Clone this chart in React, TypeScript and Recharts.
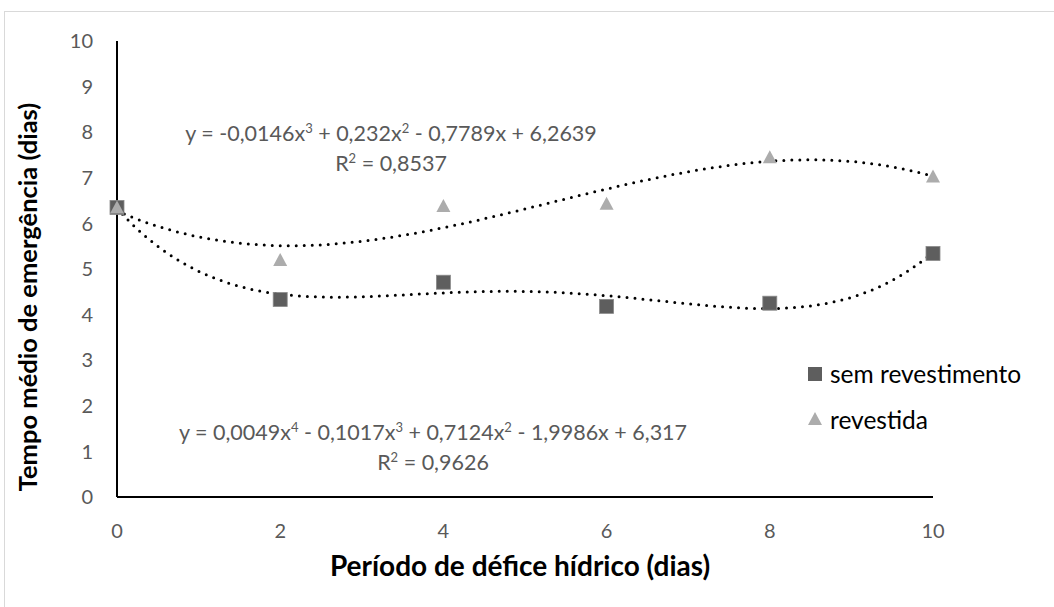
import React from "react";
import { ComposedChart, Scatter, Line, XAxis, YAxis } from "recharts";

// dias de déficit hídrico
const periodos = [0, 2, 4, 6, 8, 10];
const semRevestimento = [6.35, 4.33, 4.71, 4.18, 4.25, 5.34];
const revestida = [6.35, 5.2, 6.38, 6.43, 7.45, 7.03];
const xTicks = [0, 2, 4, 6, 8, 10];
const yTicks = [0, 1, 2, 3, 4, 5, 6, 7, 8, 9, 10];

const FONT = "Lato, 'Open Sans', sans-serif";
const GRAY_TEXT = "#595959";
const DARK = "#5e5e5e";
const LIGHT = "#acacac";

// least squares polynomial fit (same as the spreadsheet trendline)
function polyfit(xs: number[], ys: number[], deg: number): number[] {
  const n = deg + 1;
  const A: number[][] = Array.from({ length: n }, () => Array(n + 1).fill(0));
  for (let i = 0; i < xs.length; i++) {
    for (let r = 0; r < n; r++) {
      for (let c = 0; c < n; c++) A[r][c] += Math.pow(xs[i], r + c);
      A[r][n] += ys[i] * Math.pow(xs[i], r);
    }
  }
  for (let p = 0; p < n; p++) {
    let max = p;
    for (let r = p + 1; r < n; r++)
      if (Math.abs(A[r][p]) > Math.abs(A[max][p])) max = r;
    [A[p], A[max]] = [A[max], A[p]];
    for (let r = p + 1; r < n; r++) {
      const f = A[r][p] / A[p][p];
      for (let c = p; c <= n; c++) A[r][c] -= f * A[p][c];
    }
  }
  const coef = Array(n).fill(0);
  for (let r = n - 1; r >= 0; r--) {
    let s = A[r][n];
    for (let c = r + 1; c < n; c++) s -= A[r][c] * coef[c];
    coef[r] = s / A[r][r];
  }
  return coef;
}

function trend(xs: number[], ys: number[], deg: number) {
  const coef = polyfit(xs, ys, deg);
  const pts = [];
  for (let i = 0; i <= 100; i++) {
    const x = i / 10;
    pts.push({ x, y: coef.reduce((s, c, k) => s + c * Math.pow(x, k), 0) });
  }
  return pts;
}

const semData = periodos.map((x, i) => ({ x, y: semRevestimento[i] }));
const revData = periodos.map((x, i) => ({ x, y: revestida[i] }));
const semTrend = trend(periodos, semRevestimento, 4);
const revTrend = trend(periodos, revestida, 3);

const Square = (props: any) => {
  const { cx, cy } = props;
  if (cx == null || cy == null) return null;
  return (
    <rect x={cx - 7} y={cy - 7} width={14} height={14} fill={DARK} stroke="#8a8a8a" strokeWidth={0.8} />
  );
};

const Triangle = (props: any) => {
  const { cx, cy } = props;
  if (cx == null || cy == null) return null;
  return (
    <polygon
      points={`${cx},${cy - 7} ${cx + 7},${cy + 6} ${cx - 7},${cy + 6}`}
      fill={LIGHT}
    />
  );
};

const eqStyle: React.CSSProperties = {
  position: "absolute",
  fontFamily: FONT,
  fontSize: 21.5,
  color: GRAY_TEXT,
  textAlign: "center",
  lineHeight: "30px",
  whiteSpace: "nowrap",
};

const supStyle: React.CSSProperties = {
  fontSize: 13,
  position: "relative",
  top: -8,
  verticalAlign: "baseline",
  lineHeight: 0,
};

const titleStyle: React.CSSProperties = {
  position: "absolute",
  fontFamily: FONT,
  fontWeight: 700,
  color: "#000",
  whiteSpace: "nowrap",
};

export default function App() {
  return (
    <div
      style={{
        position: "absolute",
        left: 0,
        top: 0,
        width: 1054,
        height: 607,
        background: "#fff",
        overflow: "hidden",
      }}
    >
      <div
        style={{
          position: "absolute",
          left: 4,
          top: 11,
          width: 1100,
          height: 700,
          border: "1px solid #d9d9d9",
        }}
      />
      <div style={{ position: "absolute", left: 0, top: 0 }}>
        <ComposedChart
          width={1054}
          height={607}
          margin={{ top: 41, right: 121, bottom: 80, left: 57 }}
        >
          <XAxis
            type="number"
            dataKey="x"
            domain={[0, 10]}
            ticks={xTicks}
            height={30}
            axisLine={{ stroke: "#000", strokeWidth: 2 }}
            tickLine={false}
            tickSize={0}
            tickMargin={27}
            tick={{ fill: GRAY_TEXT, fontSize: 20, fontFamily: FONT }}
            allowDuplicatedCategory={false}
          />
          <YAxis
            type="number"
            dataKey="y"
            domain={[0, 10]}
            ticks={yTicks}
            width={60}
            axisLine={{ stroke: "#000", strokeWidth: 2 }}
            tickLine={false}
            tickSize={0}
            tickMargin={24}
            tick={{ fill: GRAY_TEXT, fontSize: 20, fontFamily: FONT }}
          />
          <Scatter
            name="sem revestimento"
            data={semData}
            shape={<Square />}
            isAnimationActive={false}
          />
          <Scatter
            name="revestida"
            data={revData}
            shape={<Triangle />}
            isAnimationActive={false}
          />
          <Line
            data={revTrend}
            dataKey="y"
            type="linear"
            stroke="#000"
            strokeWidth={3}
            strokeDasharray="0 8"
            strokeLinecap="round"
            dot={false}
            activeDot={false}
            legendType="none"
            isAnimationActive={false}
          />
          <Line
            data={semTrend}
            dataKey="y"
            type="linear"
            stroke="#000"
            strokeWidth={3}
            strokeDasharray="0 8"
            strokeLinecap="round"
            dot={false}
            activeDot={false}
            legendType="none"
            isAnimationActive={false}
          />
        </ComposedChart>
      </div>

      {/* legend */}
      <div style={{ position: "absolute", left: 806, top: 357, fontFamily: FONT, fontSize: 24.5, color: "#000" }}>
        <div style={{ display: "flex", alignItems: "center", height: 32 }}>
          <svg width={24} height={16} style={{ marginTop: 1 }}>
            <rect x={2} y={1} width={14} height={14} fill={DARK} />
          </svg>
          <span>sem revestimento</span>
        </div>
        <div style={{ display: "flex", alignItems: "center", height: 32, marginTop: 14 }}>
          <svg width={24} height={16}>
            <polygon points="9,1 16,14 2,14" fill={LIGHT} />
          </svg>
          <span>revestida</span>
        </div>
      </div>

      <div style={{ ...eqStyle, left: 141, top: 118, width: 500 }}>
        y = -0,0146x<sup style={supStyle}>3</sup> + 0,232x<sup style={supStyle}>2</sup> - 0,7789x + 6,2639
        <br />
        R<sup style={supStyle}>2</sup> = 0,8537
      </div>
      <div style={{ ...eqStyle, left: 133, top: 417, width: 600 }}>
        y = 0,0049x<sup style={supStyle}>4</sup> - 0,1017x<sup style={supStyle}>3</sup> + 0,7124x<sup style={supStyle}>2</sup> - 1,9986x + 6,317
        <br />
        R<sup style={supStyle}>2</sup> = 0,9626
      </div>

      <div style={{ ...titleStyle, fontSize: 28, left: 215, top: 548, width: 610, textAlign: "center" }}>
        Período de défice hídrico (dias)
      </div>
      <div
        style={{
          ...titleStyle,
          fontSize: 25.5,
          left: 27,
          top: 297,
          transform: "translate(-50%, -50%) rotate(-90deg)",
        }}
      >
        Tempo médio de emergência (dias)
      </div>
    </div>
  );
}
